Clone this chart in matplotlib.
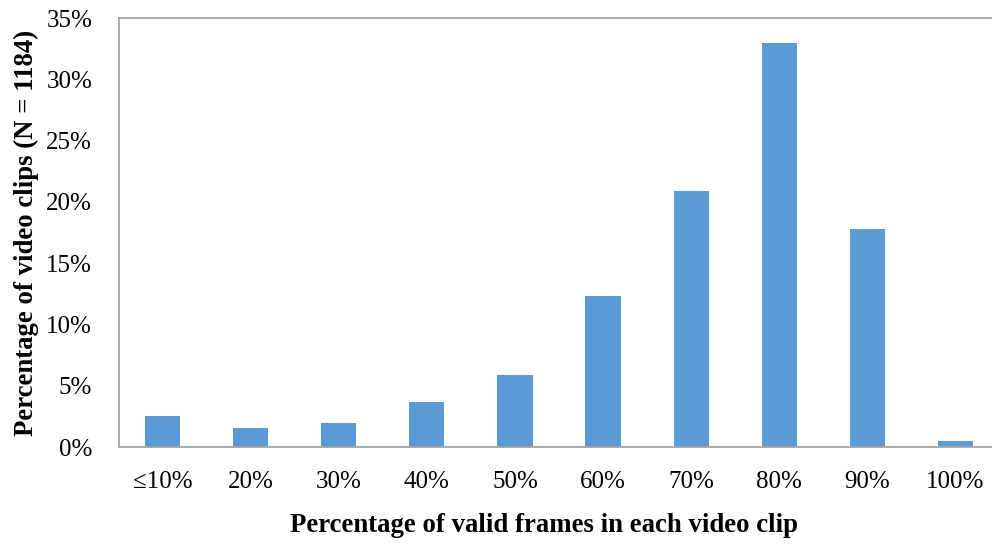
import matplotlib.pyplot as plt
from matplotlib.ticker import FuncFormatter

categories = ["≤10%", "20%", "30%", "40%", "50%", "60%", "70%", "80%", "90%", "100%"]
# number of clips per bin, N = 1184
counts = [30, 18, 23, 43, 70, 146, 247, 390, 211, 6]
n_total = 1184
percent = [c / n_total * 100 for c in counts]

plt.rcParams["font.family"] = ["Liberation Serif", "DejaVu Serif"]

fig = plt.figure(figsize=(9.92, 5.44), dpi=100)
ax = fig.add_axes([0.1195, 0.1783, 0.888, 0.7886])

x = range(len(categories))
ax.bar(x, percent, width=0.4, color="#5B9BD5", zorder=2)

ax.set_xlim(-0.5, len(categories) - 0.5)
ax.set_ylim(0, 35)
ax.set_yticks(range(0, 36, 5))
ax.yaxis.set_major_formatter(FuncFormatter(lambda v, p: "%d%%" % v))
ax.set_xticks(list(x))
ax.set_xticklabels(categories)

ax.tick_params(axis="both", length=0, labelsize=18)
ax.tick_params(axis="y", pad=19)
ax.tick_params(axis="x", pad=17)

for side in ["left", "top", "bottom"]:
    ax.spines[side].set_color("#A6A6A6")
    ax.spines[side].set_linewidth(1.3)
ax.spines["right"].set_visible(False)

ax.set_xlabel("Percentage of valid frames in each video clip", fontsize=19.3,
              fontweight="bold", labelpad=12)
ax.xaxis.set_label_coords(0.483, -0.155)
ax.set_ylabel("Percentage of video clips (N = 1184)", fontsize=19.3,
              fontweight="bold", labelpad=5)

plt.savefig("out.png")
plt.close()
